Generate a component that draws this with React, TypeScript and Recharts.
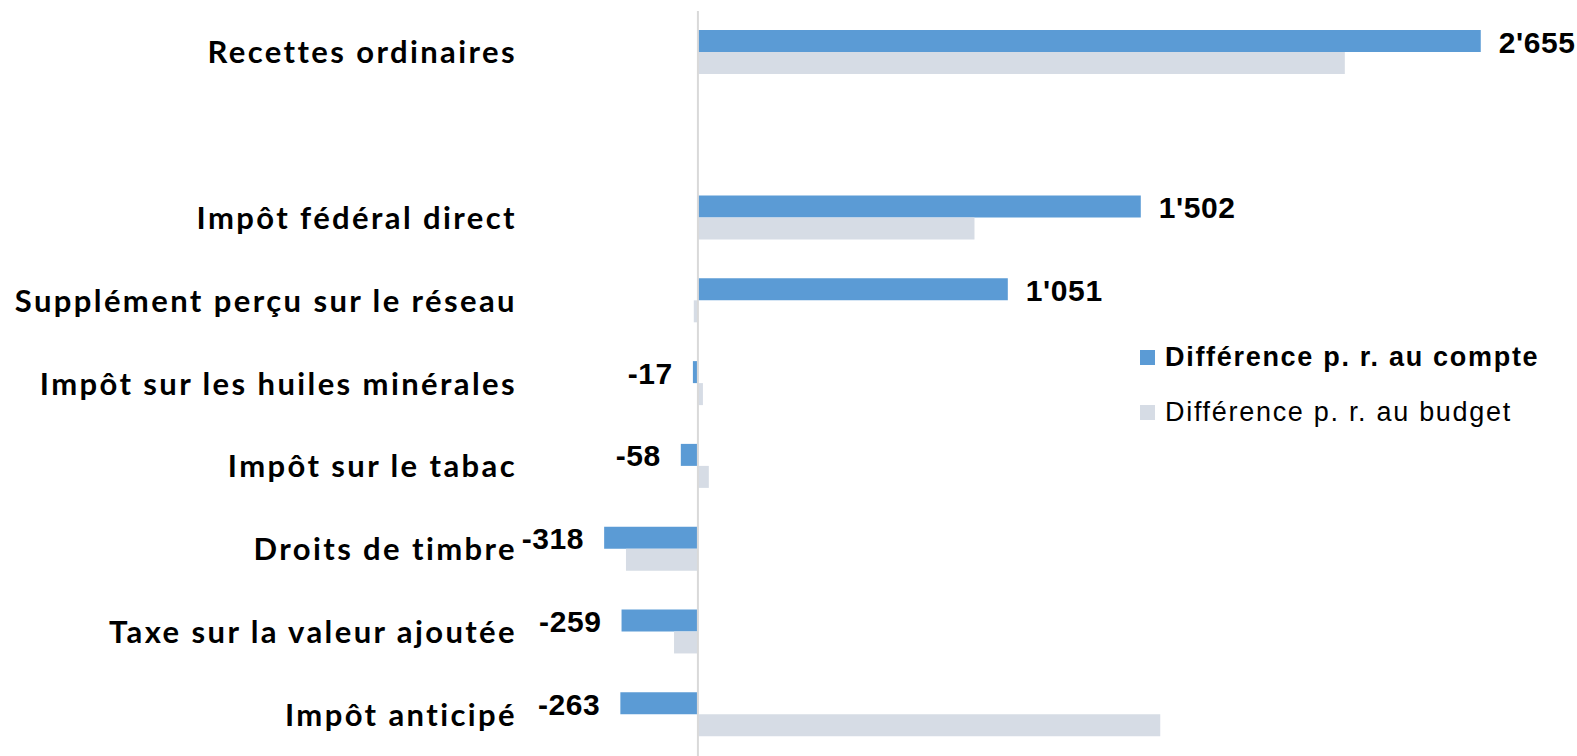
import React from 'react';
import { BarChart, Bar, XAxis, YAxis, ReferenceLine, Legend, LabelList } from 'recharts';

const categories = [
  'Recettes ordinaires',
  '',
  'Impôt fédéral direct',
  'Supplément perçu sur le réseau',
  'Impôt sur les huiles minérales',
  'Impôt sur le tabac',
  'Droits de timbre',
  'Taxe sur la valeur ajoutée',
  'Impôt anticipé',
];
const diffCompte = [2655, null, 1502, 1051, -17, -58, -318, -259, -263];
const diffBudget = [2194, null, 938, -14, 17, 37, -244, -81, 1568];

const seriesNames = ['Différence p. r. au compte', 'Différence p. r. au budget'];
const BLUE = '#5B9BD5';
const GREY = '#D6DCE5';

const chartData = categories.map((name, i) => ({
  name,
  compte: diffCompte[i],
  budget: diffBudget[i],
}));

const fmt = (v: number) => {
  const s = Math.abs(v).toString().replace(/\B(?=(\d{3})+(?!\d))/g, "'");
  return v < 0 ? '-' + s : s;
};

const ValueLabel = (props: any) => {
  const { x, y, width, height, value } = props;
  if (value == null) return null;
  const x0 = Number(x);
  const w = Number(width);
  const left = Math.min(x0, x0 + w);
  const right = Math.max(x0, x0 + w);
  const pos = value >= 0;
  return (
    <text
      x={pos ? right + 18 : left - 20}
      y={Number(y) + Number(height) / 2 + 1}
      textAnchor={pos ? 'start' : 'end'}
      dominantBaseline="central"
      fontFamily="'Liberation Sans', Arial, sans-serif"
      fontWeight={700}
      fontSize={30}
      letterSpacing={0.6}
      fill="#000"
    >
      {fmt(value)}
    </text>
  );
};

const renderLegend = () => (
  <div style={{ fontFamily: "'Liberation Sans', Arial, sans-serif", fontSize: 27, color: '#000' }}>
    {seriesNames.map((n, i) => (
      <div key={n} style={{ display: 'flex', alignItems: 'center', height: 55 }}>
        <span style={{ width: 15, height: 15, background: i === 0 ? BLUE : GREY, marginRight: 10, display: 'inline-block' }} />
        <span style={{ fontWeight: i === 0 ? 700 : 400, letterSpacing: 1.7, whiteSpace: 'nowrap' }}>{n}</span>
      </div>
    ))}
  </div>
);

export default function App() {
  return (
    <div style={{ position: 'absolute', left: 0, top: 0, width: 1577, height: 756, background: '#fff' }}>
      <BarChart
        width={1577}
        height={756}
        data={chartData}
        layout="vertical"
        margin={{ top: 11, right: 24, bottom: 0, left: 0 }}
        barGap={0}
        barSize={22}
      >
        <XAxis type="number" domain={[-600, 2900]} hide />
        <YAxis
          type="category"
          dataKey="name"
          width={521}
          interval={0}
          axisLine={false}
          tickLine={false}
          tickSize={0}
          tickMargin={4}
          tick={{ fontFamily: 'Lato, sans-serif', fontWeight: 700, fontSize: 31, fill: '#000', letterSpacing: 2.4 }}
        />
        <Bar dataKey="compte" name={seriesNames[0]} fill={BLUE} isAnimationActive={false}>
          <LabelList dataKey="compte" content={ValueLabel} />
        </Bar>
        <Bar dataKey="budget" name={seriesNames[1]} fill={GREY} isAnimationActive={false} />
        <ReferenceLine x={0} stroke="#D9D9D9" strokeWidth={2} />
        <Legend
          layout="vertical"
          align="center"
          verticalAlign="middle"
          content={renderLegend}
          wrapperStyle={{ position: 'absolute', left: 1140, top: 330, width: 437 }}
        />
      </BarChart>
    </div>
  );
}
